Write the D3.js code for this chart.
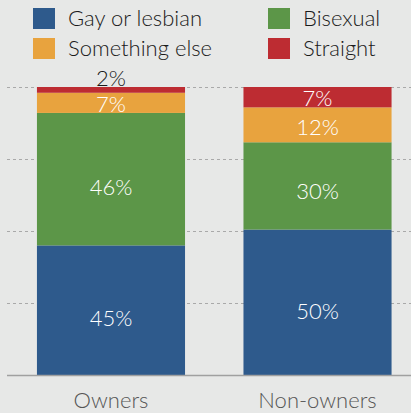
<!DOCTYPE html>
<html>
<head>
<meta charset="utf-8">
<script src="https://cdn.jsdelivr.net/npm/d3@7"></script>
<style>
  html, body { margin: 0; padding: 0; background: #e7e8e7; }
  svg { display: block; font-family: Lato, "Open Sans", sans-serif; font-weight: 300; }
</style>
</head>
<body>
<div id="dataViz"></div>
<script>
// chart data
let groups = ["Owners", "Non-owners"];
let series = ["Gay or lesbian", "Bisexual", "Something else", "Straight"];
let colors = ["#2e5a8c", "#5c9648", "#e8a33e", "#bd2c32"];
let gayLesbian = [45, 50];
let bisexual = [46, 30];
let somethingElse = [7, 12];
let straight = [2, 7];
let gridTicks = [25, 50, 75, 100];

let width = 411, height = 413;
let margin = { top: 87, right: 0, bottom: 38, left: 7 };

let svg = d3.select("#dataViz")
    .append("svg")
    .attr("width", width)
    .attr("height", height);

svg.append("rect")
    .attr("width", width)
    .attr("height", height)
    .attr("fill", "#e7e8e7");

// rows for stacking, normalised so each bar fills to 100
let rows = groups.map(function (g, i) {
    let vals = [gayLesbian[i], bisexual[i], somethingElse[i], straight[i]];
    let total = d3.sum(vals);
    let row = { group: g };
    series.forEach(function (s, j) {
        row[s] = vals[j] / total * 100;
        row[s + "_label"] = vals[j];
    });
    return row;
});

let stack = d3.stack().keys(series);
let stacked = stack(rows);

let x = d3.scaleBand()
    .domain(groups)
    .range([margin.left, margin.left + 414.5])
    .paddingInner(0.283)
    .paddingOuter(0.145);

let y = d3.scaleLinear()
    .domain([0, 100])
    .range([height - margin.bottom, margin.top]);

// dashed gridlines
svg.append("g")
    .selectAll("line")
    .data(gridTicks)
    .enter()
    .append("line")
    .attr("x1", margin.left)
    .attr("x2", width)
    .attr("y1", function (d) { return Math.round(y(d)) + 0.5; })
    .attr("y2", function (d) { return Math.round(y(d)) + 0.5; })
    .attr("stroke", "#a9a9a9")
    .attr("stroke-width", 1)
    .attr("stroke-dasharray", "3,3");

// bars
let layer = svg.selectAll(".layer")
    .data(stacked)
    .enter()
    .append("g")
    .attr("class", "layer")
    .attr("fill", function (d, i) { return colors[i]; });

layer.selectAll("rect")
    .data(function (d) { return d; })
    .enter()
    .append("rect")
    .attr("x", function (d) { return x(d.data.group); })
    .attr("width", x.bandwidth())
    .attr("y", function (d) { return y(d[1]); })
    .attr("height", function (d) { return y(d[0]) - y(d[1]); });

// value labels
layer.each(function (s) {
    d3.select(this).selectAll("text")
        .data(s)
        .enter()
        .append("text")
        .attr("x", function (d) { return x(d.data.group) + x.bandwidth() / 2; })
        .attr("y", function (d) {
            let v = d.data[s.key + "_label"];
            if (v < 4) return y(d[1]) - 1;
            let h = y(d[0]) - y(d[1]);
            return (y(d[0]) + y(d[1])) / 2 + 8 + h * 0.06;
        })
        .attr("text-anchor", "middle")
        .attr("font-size", "22px")
        .attr("fill", function (d) { return d.data[s.key + "_label"] < 4 ? "#1a1a1a" : "#ffffff"; })
        .text(function (d) { return d.data[s.key + "_label"] + "%"; });
});

// baseline
svg.append("line")
    .attr("x1", margin.left)
    .attr("x2", width)
    .attr("y1", y(0) + 0.5)
    .attr("y2", y(0) + 0.5)
    .attr("stroke", "#a0a0a0")
    .attr("stroke-width", 1.5);

// x axis labels
svg.append("g")
    .selectAll("text")
    .data(groups)
    .enter()
    .append("text")
    .attr("x", function (d) { return x(d) + x.bandwidth() / 2; })
    .attr("y", 408)
    .attr("text-anchor", "middle")
    .attr("font-size", "22px")
    .attr("fill", "#555555")
    .text(function (d) { return d; });

// legend
let legend = svg.append("g")
    .selectAll("g")
    .data(series)
    .enter()
    .append("g")
    .attr("transform", function (d, i) {
        let col = i % 2, row = Math.floor(i / 2);
        return "translate(" + (33 + col * 235) + "," + (8 + row * 30) + ")";
    });

legend.append("rect")
    .attr("width", 22)
    .attr("height", 21)
    .attr("fill", function (d, i) { return colors[i]; });

legend.append("text")
    .attr("x", 35)
    .attr("y", 18)
    .attr("font-size", "22px")
    .attr("fill", "#1a1a1a")
    .text(function (d) { return d; });
</script>
</body>
</html>
